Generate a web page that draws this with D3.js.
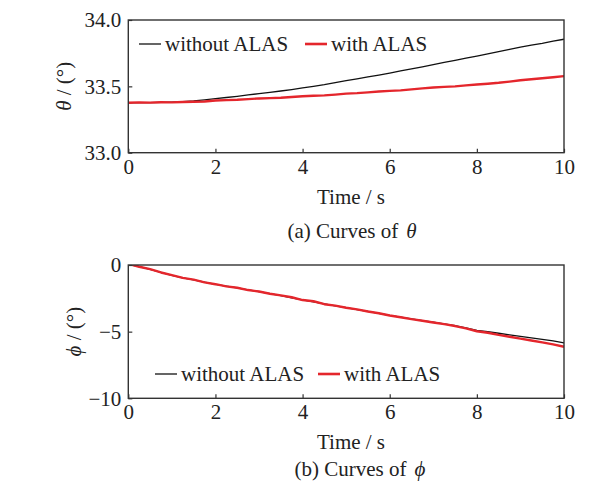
<!DOCTYPE html>
<html>
<head>
<meta charset="utf-8">
<script src="https://cdn.jsdelivr.net/npm/d3@7/dist/d3.min.js"></script>
<style>
  body { margin: 0; background: #fff; }
  svg { display: block; font-family: "Liberation Serif", "Times New Roman", serif; }
</style>
</head>
<body>
<div id="chart"></div>
<script>
// sample times (s)
const timeS = [0, 0.25, 0.5, 0.75, 1, 1.25, 1.5, 1.75, 2, 2.25, 2.5, 2.75, 3, 3.25, 3.5, 3.75,
  4, 4.25, 4.5, 4.75, 5, 5.25, 5.5, 5.75, 6, 6.25, 6.5, 6.75, 7, 7.25, 7.5, 7.75,
  8, 8.25, 8.5, 8.75, 9, 9.25, 9.5, 9.75, 10];

// theta (deg)
const thetaWithout = [33.376, 33.377, 33.378, 33.379, 33.381, 33.384, 33.390, 33.398, 33.407, 33.416,
  33.425, 33.435, 33.445, 33.455, 33.465, 33.476, 33.488, 33.500, 33.513, 33.528, 33.543, 33.557,
  33.571, 33.585, 33.600, 33.616, 33.631, 33.647, 33.664, 33.680, 33.696, 33.712, 33.728, 33.745,
  33.762, 33.778, 33.795, 33.810, 33.824, 33.840, 33.855];
const thetaWith = [33.376, 33.379, 33.377, 33.380, 33.379, 33.382, 33.384, 33.386, 33.393, 33.396,
  33.399, 33.404, 33.409, 33.411, 33.414, 33.420, 33.425, 33.429, 33.432, 33.438, 33.445, 33.449,
  33.455, 33.461, 33.466, 33.470, 33.477, 33.485, 33.491, 33.496, 33.500, 33.507, 33.514, 33.520,
  33.527, 33.536, 33.546, 33.553, 33.561, 33.569, 33.577];

// phi (deg)
const phiWithout = [0.05, -0.12, -0.33, -0.55, -0.78, -0.96, -1.12, -1.28, -1.45, -1.58, -1.72, -1.86,
  -2.00, -2.15, -2.30, -2.46, -2.62, -2.76, -2.92, -3.07, -3.20, -3.34, -3.48, -3.63, -3.78, -3.91,
  -4.04, -4.17, -4.29, -4.41, -4.54, -4.71, -4.90, -5.00, -5.12, -5.24, -5.35, -5.47, -5.58, -5.70, -5.85];
const phiWith = [0.08, -0.13, -0.31, -0.56, -0.76, -0.97, -1.10, -1.30, -1.44, -1.60, -1.71, -1.88,
  -1.99, -2.16, -2.28, -2.42, -2.63, -2.72, -2.94, -3.05, -3.21, -3.33, -3.49, -3.62, -3.79, -3.92,
  -4.06, -4.18, -4.31, -4.44, -4.58, -4.76, -4.97, -5.08, -5.24, -5.38, -5.52, -5.66, -5.80, -5.95, -6.13];

const xTicks = [0, 2, 4, 6, 8, 10];
const thetaTicks = [33.0, 33.5, 34.0];
const phiTicks = [0, -5, -10];
const seriesNames = ['without ALAS', 'with ALAS'];

const width = 609, height = 486;
const colBlack = '#111', colRed = '#e4262c', colAxis = '#333', colText = '#222';
const fontSize = '21px';

const svg = d3.select('#chart').append('svg')
  .attr('width', width)
  .attr('height', height);

function panel(opts) {
  const { top, bottom, yDomain, yTicks, yFmt, without, withA, yLabel, yLabelX, legendY, legendX, caption, captionX, captionY } = opts;
  const left = 128.3, right = 564;

  const x = d3.scaleLinear().domain([0, 10]).range([left, right]);
  const y = d3.scaleLinear().domain(yDomain).range([bottom, top]);

  // clip so the lines stay in the frame
  const clipId = 'clip' + Math.round(top);
  svg.append('clipPath').attr('id', clipId)
    .append('rect').attr('x', left - 3).attr('y', top).attr('width', right - left + 5).attr('height', bottom - top);

  const line = d3.line().x((d, i) => x(timeS[i])).y(d => y(d));

  const g = svg.append('g').attr('clip-path', `url(#${clipId})`);
  g.append('path').datum(without)
    .attr('fill', 'none').attr('stroke', colBlack).attr('stroke-width', 1.3)
    .attr('d', line);
  g.append('path').datum(withA)
    .attr('fill', 'none').attr('stroke', colRed).attr('stroke-width', 2.4)
    .attr('stroke-linejoin', 'round')
    .attr('d', line);

  // axes, ticks pointing inward
  const ax = svg.append('g')
    .attr('transform', `translate(0,${bottom})`)
    .call(d3.axisBottom(x).tickValues(xTicks).tickSizeInner(-4).tickSizeOuter(0).tickPadding(6).tickFormat(d3.format('d')));
  const ay = svg.append('g')
    .attr('transform', `translate(${left},0)`)
    .call(d3.axisLeft(y).tickValues(yTicks).tickSizeInner(-4).tickSizeOuter(0).tickPadding(7).tickFormat(yFmt));
  [ax, ay].forEach(a => {
    a.select('.domain').remove();
    a.selectAll('line').attr('stroke', colAxis).attr('stroke-width', 1.2);
    a.selectAll('text').attr('fill', colText).style('font-size', fontSize).style('font-family', '"Liberation Serif", serif');
  });

  // frame
  svg.append('rect')
    .attr('x', left).attr('y', top).attr('width', right - left).attr('height', bottom - top)
    .attr('fill', 'none').attr('stroke', colAxis).attr('stroke-width', 1.4);

  // legend
  const cols = [colBlack, colRed], widths = [1.3, 2.6];
  legendX.forEach((lx, i) => {
    svg.append('line')
      .attr('x1', lx).attr('x2', lx + 22).attr('y1', legendY).attr('y2', legendY)
      .attr('stroke', cols[i]).attr('stroke-width', widths[i]);
    svg.append('text')
      .attr('x', lx + 26).attr('y', legendY + 7)
      .attr('fill', colText).style('font-size', fontSize)
      .text(seriesNames[i]);
  });

  // y label
  const yl = svg.append('text')
    .attr('transform', `translate(${yLabelX},${(top + bottom) / 2}) rotate(-90)`)
    .attr('text-anchor', 'middle')
    .attr('fill', colText).style('font-size', fontSize);
  yl.append('tspan').style('font-style', 'italic').text(yLabel);
  yl.append('tspan').text(' / (°)');

  // x label
  svg.append('text')
    .attr('x', 351).attr('y', bottom + 51)
    .attr('text-anchor', 'middle')
    .attr('fill', colText).style('font-size', fontSize)
    .text('Time / s');

  // caption
  const cap = svg.append('text')
    .attr('x', captionX).attr('y', captionY)
    .attr('text-anchor', 'middle')
    .attr('fill', colText).style('font-size', fontSize);
  cap.append('tspan').text(caption);
  cap.append('tspan').attr('dx', 8).style('font-style', 'italic').text(yLabel);
}

panel({
  top: 20, bottom: 152.7, yDomain: [33, 34], yTicks: thetaTicks, yFmt: d3.format('.1f'),
  without: thetaWithout, withA: thetaWith, yLabel: 'θ', yLabelX: 71,
  legendY: 44, legendX: [139, 305], caption: '(a) Curves of', captionX: 352, captionY: 238
});
panel({
  top: 265, bottom: 398.3, yDomain: [-10, 0], yTicks: phiTicks, yFmt: d3.format('d'),
  without: phiWithout, withA: phiWith, yLabel: 'ϕ', yLabelX: 81,
  legendY: 374, legendX: [155, 318], caption: '(b) Curves of', captionX: 360, captionY: 476
});
</script>
</body>
</html>
